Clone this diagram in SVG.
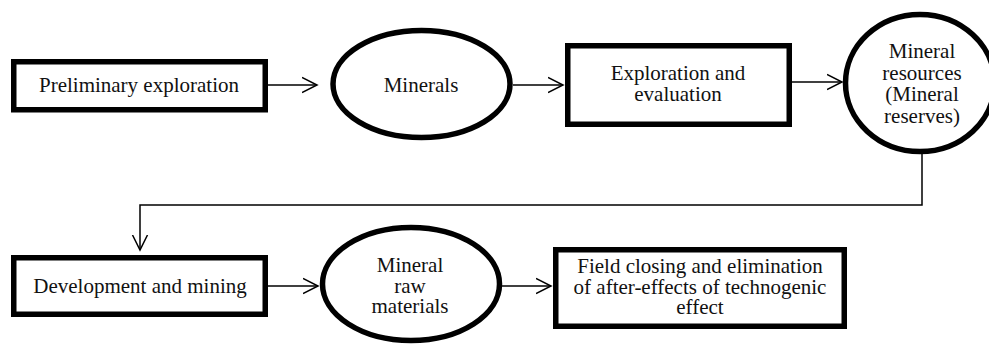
<svg xmlns="http://www.w3.org/2000/svg" width="989" height="344" viewBox="0 0 989 344">
<style>
.n{fill:#fff;stroke:#000;stroke-width:5.5}
.t{font-family:'Liberation Serif','Times New Roman',Tinos,'DejaVu Serif',serif;font-size:21px;fill:#111;text-anchor:middle}
.c{fill:none;stroke:#000;stroke-width:1.5}
</style>
<defs>
<marker id="a" markerUnits="userSpaceOnUse" markerWidth="18" markerHeight="18" refX="15" refY="8" orient="auto" viewBox="0 0 18 16">
<path d="M0,0.5 L15,8 L0,15.5" fill="none" stroke="#000" stroke-width="1.5"/>
</marker>
</defs>
<rect width="989" height="344" fill="#fff"/>
<g id="connectors">
<line class="c" x1="268" y1="85" x2="317" y2="85" marker-end="url(#a)"/>
<line class="c" x1="513" y1="85" x2="563" y2="85" marker-end="url(#a)"/>
<line class="c" x1="792" y1="82" x2="842" y2="82" marker-end="url(#a)"/>
<polyline class="c" points="922,154 922,205 140,205 140,250" marker-end="url(#a)"/>
<line class="c" x1="268" y1="286" x2="318" y2="286" marker-end="url(#a)"/>
<line class="c" x1="502" y1="286" x2="551" y2="286" marker-end="url(#a)"/>
</g>
<g id="preliminary">
<rect class="n" x="13.75" y="61.75" width="251.5" height="48"/>
<text class="t" font-family="Liberation Serif, serif" x="139" y="92">Preliminary exploration</text>
</g>
<g id="minerals">
<ellipse class="n" cx="421.5" cy="84" rx="88.5" ry="53.5"/>
<text class="t" font-family="Liberation Serif, serif" x="421" y="92">Minerals</text>
</g>
<g id="exploration">
<rect class="n" x="567.75" y="45.75" width="221.5" height="78.5"/>
<text class="t" font-family="Liberation Serif, serif" x="678" y="80">Exploration and</text>
<text class="t" font-family="Liberation Serif, serif" x="678" y="101">evaluation</text>
</g>
<g id="resources">
<ellipse class="n" cx="920" cy="83" rx="74.5" ry="68.5"/>
<text class="t" font-family="Liberation Serif, serif" x="922" y="58">Mineral</text>
<text class="t" font-family="Liberation Serif, serif" x="922" y="79.5">resources</text>
<text class="t" font-family="Liberation Serif, serif" x="922" y="101">(Mineral</text>
<text class="t" font-family="Liberation Serif, serif" x="922" y="122.5">reserves)</text>
</g>
<g id="development">
<rect class="n" x="13.75" y="257.75" width="251.5" height="56.5"/>
<text class="t" font-family="Liberation Serif, serif" x="140" y="293">Development and mining</text>
</g>
<g id="raw">
<ellipse class="n" cx="411" cy="284" rx="88.5" ry="56.5"/>
<text class="t" font-family="Liberation Serif, serif" x="410" y="272">Mineral</text>
<text class="t" font-family="Liberation Serif, serif" x="410" y="293">raw</text>
<text class="t" font-family="Liberation Serif, serif" x="410" y="313">materials</text>
</g>
<g id="closing">
<rect class="n" x="555.75" y="249.75" width="288.5" height="76.5"/>
<text class="t" font-family="Liberation Serif, serif" x="700" y="273">Field closing and elimination</text>
<text class="t" font-family="Liberation Serif, serif" x="700" y="293.5">of after-effects of technogenic</text>
<text class="t" font-family="Liberation Serif, serif" x="700" y="314">effect</text>
</g>
</svg>
